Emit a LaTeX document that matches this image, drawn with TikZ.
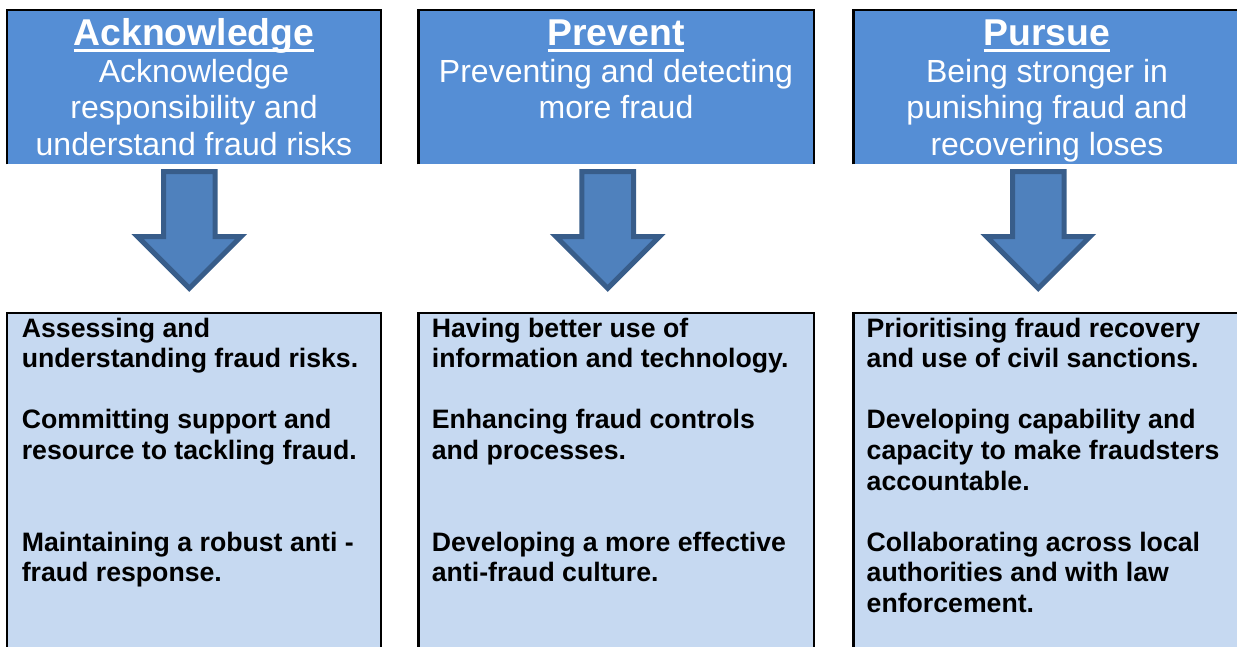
\documentclass[tikz,border=0pt]{standalone}
\usepackage{fontspec}
\setmainfont{Liberation Sans}
\definecolor{topfill}{HTML}{558ED5}
\definecolor{arrfill}{HTML}{4F81BD}
\definecolor{arrline}{HTML}{385D8A}
\definecolor{botfill}{HTML}{C6D9F1}
\newsavebox\myulbox
\newcommand\myul[1]{\sbox\myulbox{#1}\rlap{\rule[-4.9pt]{\wd\myulbox}{2.6pt}}\usebox\myulbox}
\newcommand\ctrlines[2]{\vtop{\baselineskip=#1\relax\lineskiplimit=-20pt\halign{\hfil##\hfil\cr#2\crcr}}}
\newcommand\lftlines[2]{\vtop{\baselineskip=#1\relax\lineskiplimit=-20pt\halign{##\hfil\cr#2\crcr}}}
\newcommand\blockarrow[1]{%
  \draw[arrowshape] ({#1-25.8},171.5) -- ({#1+25.8},171.5) -- ({#1+25.8},236.5)
    -- ({#1+51.8},236.5) -- (#1,288.3) -- ({#1-51.8},236.5) -- ({#1-25.8},236.5) -- cycle;}
\tikzset{
  boxline/.style={draw=black, line width=1.9pt, line join=miter},
  arrowshape/.style={fill=arrfill, draw=arrline, line width=3.75pt, line join=miter, miter limit=10},
  titletext/.style={anchor=base, inner sep=0pt, text=white, font=\fontsize{28pt}{32pt}\selectfont\bfseries},
  subtext/.style={anchor=base, inner sep=0pt, text=white, font=\fontsize{24pt}{27.4pt}\selectfont},
  bodytext/.style={anchor=base west, inner sep=0pt, text=black, font=\fontsize{20pt}{23pt}\selectfont\bfseries},
}
\begin{document}
\begin{tikzpicture}[x=0.75pt,y=-0.75pt]
\useasboundingbox (0,0) rectangle (1237,646);
% top boxes
\fill[topfill] (7.2,10.2) rectangle (380.8,164.3);
\draw[boxline] (7.2,164.3) -- (7.2,10.2) -- (380.8,10.2) -- (380.8,164.3);
\fill[topfill] (418.5,10.2) rectangle (813.8,164.3);
\draw[boxline] (418.5,164.3) -- (418.5,10.2) -- (813.8,10.2) -- (813.8,164.3);
\fill[topfill] (853.3,10.2) rectangle (1241,164.3);
\draw[boxline] (853.3,164.3) -- (853.3,10.2) -- (1241,10.2) -- (1241,164.3);
% bottom boxes
\fill[botfill] (7.2,313.2) rectangle (380.8,650);
\draw[boxline] (7.2,650) -- (7.2,313.2) -- (380.8,313.2) -- (380.8,650);
\fill[botfill] (418.5,313.2) rectangle (813.8,650);
\draw[boxline] (418.5,650) -- (418.5,313.2) -- (813.8,313.2) -- (813.8,650);
\fill[botfill] (853.3,313.2) rectangle (1241,650);
\draw[boxline] (853.3,650) -- (853.3,313.2) -- (1241,313.2) -- (1241,650);
% arrows
\blockarrow{189.3}
\blockarrow{607.7}
\blockarrow{1038.3}
% titles
\node[titletext] (t1) at (194,45.7) {\myul{Acknowledge}};
\node[titletext] (t2) at (616,45.7) {\myul{Prevent}};
\node[titletext] (t3) at (1047,45.7) {\myul{Pursue}};
% subtitles
\node[subtext] (s1) at (194,82.3) {\ctrlines{27.4pt}{Acknowledge\cr responsibility and\cr understand fraud risks}};
\node[subtext] (s2) at (616,82.3) {\ctrlines{27.4pt}{Preventing and detecting\cr more fraud}};
\node[subtext] (s3) at (1047,82.3) {\ctrlines{27.4pt}{Being stronger in\cr punishing fraud and\cr recovering loses}};
% body texts
\node[bodytext] (b1) at (21.6,337) {\lftlines{22.95pt}{Assessing and\cr understanding fraud risks.\cr \cr Committing support and\cr resource to tackling fraud.\cr \cr \cr Maintaining a robust anti -\cr fraud response.}};
\node[bodytext] (b2) at (431.6,337) {\lftlines{22.95pt}{Having better use of\cr information and technology.\cr \cr Enhancing fraud controls\cr and processes.\cr \cr \cr Developing a more effective\cr anti-fraud culture.}};
\node[bodytext] (b3) at (866.4,337) {\lftlines{22.95pt}{Prioritising fraud recovery\cr and use of civil sanctions.\cr \cr Developing capability and\cr capacity to make fraudsters\cr accountable.\cr \cr Collaborating across local\cr authorities and with law\cr enforcement.}};
\end{tikzpicture}
\end{document}
